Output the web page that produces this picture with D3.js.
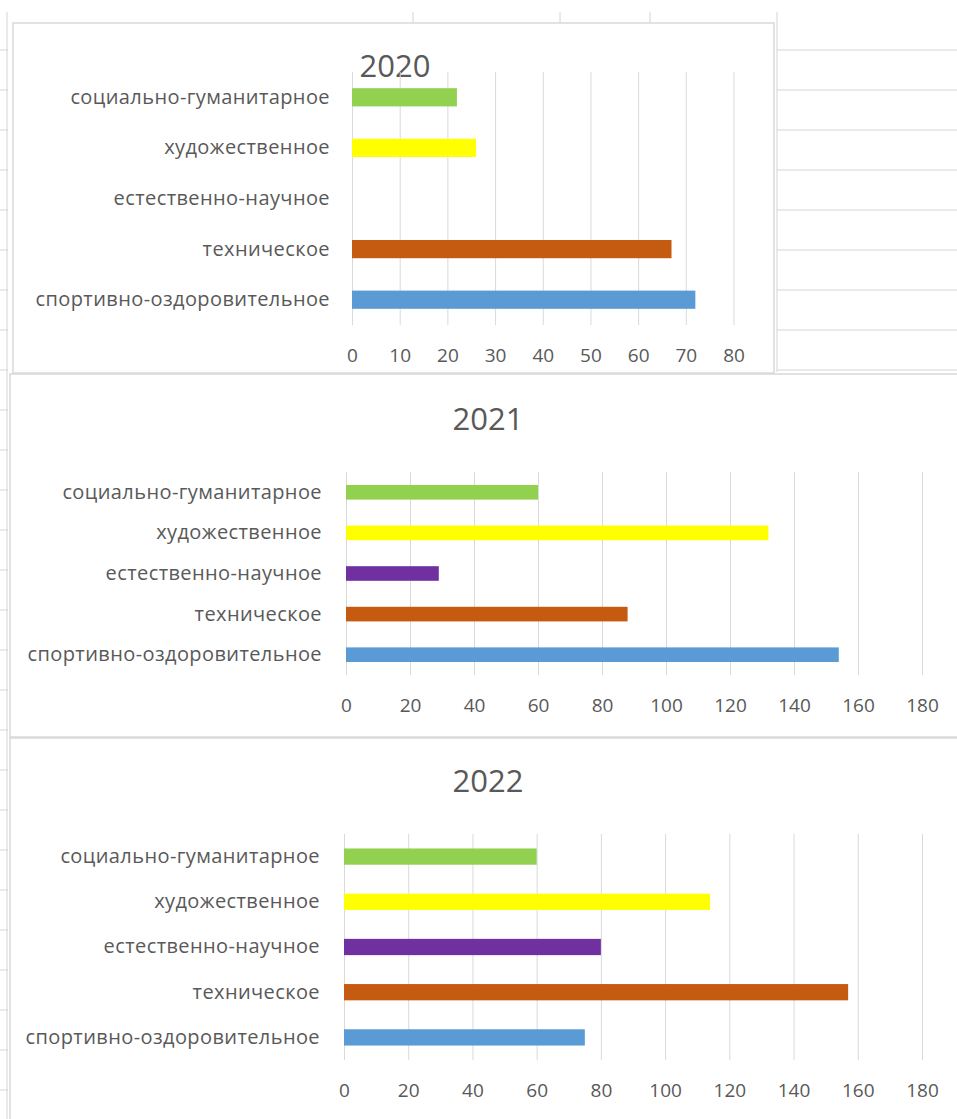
<!DOCTYPE html>
<html>
<head>
<meta charset="utf-8">
<script src="https://cdn.jsdelivr.net/npm/d3@7"></script>
<style>
  body { margin: 0; background: #fff; }
  svg { display: block; }
  text { font-family: "Open Sans", "Noto Sans", sans-serif; fill: #595959; }
</style>
</head>
<body>
<svg id="chart" width="957" height="1119"></svg>
<script>
// categories, top to bottom as in the picture
var categories = ["социально-гуманитарное", "художественное", "естественно-научное", "техническое", "спортивно-оздоровительное"];
var barColors = ["#92D050", "#FFFF00", "#7030A0", "#C55A11", "#5B9BD5"];

var values2020 = [22, 26, 0, 67, 72];
var values2021 = [60, 132, 29, 88, 154];
var values2022 = [60, 114, 80, 157, 75];

var ticks2020 = [0, 10, 20, 30, 40, 50, 60, 70, 80];
var ticks2021 = [0, 20, 40, 60, 80, 100, 120, 140, 160, 180];
var ticks2022 = [0, 20, 40, 60, 80, 100, 120, 140, 160, 180];

var svg = d3.select("#chart");
var cellLine = "#D4D4D4";

//spreadsheet cells peeking out behind the charts
var bg = svg.append("g");
[413, 560, 650, 777].forEach(function(x){
    bg.append("line").attr("x1", x).attr("x2", x).attr("y1", 12).attr("y2", x == 777 ? 372 : 24)
    .attr("stroke", cellLine);
});
for (var y = 50; y <= 370; y += 40) {
    bg.append("line").attr("x1", 777).attr("x2", 957).attr("y1", y).attr("y2", y).attr("stroke", cellLine);
}
for (var y = 50; y <= 1100; y += 40) {
    bg.append("line").attr("x1", 0).attr("x2", 8).attr("y1", y).attr("y2", y).attr("stroke", cellLine);
}
bg.append("line").attr("x1", 7).attr("x2", 7).attr("y1", 12).attr("y2", 1119).attr("stroke", cellLine);

function drawChart(cfg) {
    var g = svg.append("g");

    //chart frame
    g.append("rect")
    .attr("x", cfg.frame[0]).attr("y", cfg.frame[1])
    .attr("width", cfg.frame[2]).attr("height", cfg.frame[3])
    .attr("fill", "#fff").attr("stroke", "#D9D9D9").attr("stroke-width", 1.5);

    g.append("text")
    .attr("x", cfg.titleX).attr("y", cfg.titleY)
    .attr("text-anchor", "middle").attr("dominant-baseline", "central")
    .style("font-size", "31px")
    .text(cfg.title);

    var x = d3.scaleLinear().domain([0, cfg.ticks[cfg.ticks.length - 1]]).range([cfg.x0, cfg.x1]);
    var y = d3.scaleBand().domain(categories).range([cfg.y0, cfg.y1]).paddingInner(0.64).paddingOuter(0.32);

    //vertical gridlines
    g.append("g")
    .attr("transform", "translate(0," + cfg.y1 + ")")
    .call(d3.axisBottom(x).tickValues(cfg.ticks).tickSize(-(cfg.y1 - cfg.y0)).tickFormat(""))
    .call(function(a){ a.select(".domain").remove(); })
    .selectAll("line").attr("stroke", "#D9D9D9");

    //tick labels
    g.append("g")
    .attr("transform", "translate(0," + cfg.y1 + ")")
    .call(d3.axisBottom(x).tickValues(cfg.ticks).tickSize(0).tickPadding(24))
    .call(function(a){ a.select(".domain").remove(); })
    .selectAll("text").style("font-size", "19px").attr("fill", "#595959")
    .style("font-family", "\"Open Sans\", sans-serif");

    //category labels
    g.append("g")
    .attr("transform", "translate(" + cfg.x0 + ",0)")
    .call(d3.axisLeft(y).tickSize(0).tickPadding(cfg.labelGap))
    .call(function(a){ a.select(".domain").remove(); })
    .selectAll("text").style("font-size", "20px").style("letter-spacing", "0.4px").attr("fill", "#595959")
    .style("font-family", "\"Open Sans\", sans-serif");

    g.selectAll(".bar")
    .data(cfg.values)
    .enter()
    .append("rect")
    .attr("x", x(0))
    .attr("y", function(d, i){ return y(categories[i]); })
    .attr("width", function(d){ return x(d) - x(0); })
    .attr("height", y.bandwidth())
    .attr("fill", function(d, i){ return barColors[i]; });
}

drawChart({title: "2020", values: values2020, ticks: ticks2020,
    frame: [13, 23, 761, 350], titleX: 395, titleY: 65,
    x0: 352, x1: 733.5, y0: 72, y1: 325, labelGap: 22});
drawChart({title: "2021", values: values2021, ticks: ticks2021,
    frame: [10, 374, 960, 363], titleX: 488, titleY: 418,
    x0: 346, x1: 922, y0: 472, y1: 675, labelGap: 24});
drawChart({title: "2022", values: values2022, ticks: ticks2022,
    frame: [10, 738, 960, 400], titleX: 488, titleY: 780,
    x0: 344, x1: 922, y0: 834, y1: 1060, labelGap: 24});
</script>
</body>
</html>
